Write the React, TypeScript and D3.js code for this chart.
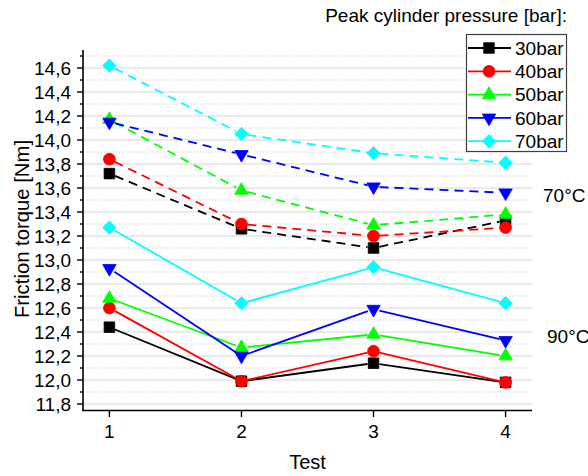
import React from 'react';
import * as d3 from 'd3';

const tests = [1, 2, 3, 4];
const seriesNames = ['30bar', '40bar', '50bar', '60bar', '70bar'];
const seriesColors = ['#000000', '#ff0000', '#00ff00', '#0000ff', '#00ffff'];
const seriesSymbols = ['square', 'circle', 'triangleUp', 'triangleDown', 'diamond'];

// 70°C (dashed)
const values70C_30 = [13.72, 13.26, 13.1, 13.33];
const values70C_40 = [13.84, 13.3, 13.2, 13.27];
const values70C_50 = [14.17, 13.58, 13.29, 13.38];
const values70C_60 = [14.15, 13.88, 13.61, 13.56];
const values70C_70 = [14.62, 14.05, 13.89, 13.81];

// 90°C (solid)
const values90C_30 = [12.44, 11.99, 12.14, 11.98];
const values90C_40 = [12.6, 11.99, 12.24, 11.98];
const values90C_50 = [12.68, 12.27, 12.38, 12.2];
const values90C_60 = [12.93, 12.2, 12.59, 12.33];
const values90C_70 = [13.27, 12.64, 12.94, 12.64];

const values70C = [values70C_30, values70C_40, values70C_50, values70C_60, values70C_70];
const values90C = [values90C_30, values90C_40, values90C_50, values90C_60, values90C_70];

const yMajorTicks = [11.8, 12.0, 12.2, 12.4, 12.6, 12.8, 13.0, 13.2, 13.4, 13.6, 13.8, 14.0, 14.2, 14.4, 14.6];
const yMinorTicks = [11.9, 12.1, 12.3, 12.5, 12.7, 12.9, 13.1, 13.3, 13.5, 13.7, 13.9, 14.1, 14.3, 14.5, 14.7];
const xTickLabels = ['1', '2', '3', '4'];

const W = 588;
const H = 476;
const FONT = "'Liberation Sans', Arial, sans-serif";

const x = d3.scaleLinear().domain([0.8, 4.2]).range([83, 532]);
const y = d3.scaleLinear().domain([11.75, 14.75]).range([410, 50]);

function symbolD(kind: string): { d: string; rot: number } {
  if (kind === 'square') return { d: d3.symbol(d3.symbolSquare, 112)() as string, rot: 0 };
  if (kind === 'circle') return { d: d3.symbol(d3.symbolCircle, 110)() as string, rot: 0 };
  if (kind === 'triangleUp') return { d: d3.symbol(d3.symbolTriangle, 78)() as string, rot: 0 };
  if (kind === 'triangleDown') return { d: d3.symbol(d3.symbolTriangle, 78)() as string, rot: 180 };
  return { d: d3.symbol(d3.symbolSquare, 90)() as string, rot: 45 };
}

function Marker({ cx, cy, kind, color }: { cx: number; cy: number; kind: string; color: string }) {
  const s = symbolD(kind);
  return <path d={s.d} transform={`translate(${cx},${cy}) rotate(${s.rot})`} fill={color} stroke={color} strokeWidth={0.8} />;
}

function segments(vals: number[], gap: number) {
  const out: string[] = [];
  for (let i = 0; i < vals.length - 1; i++) {
    const x0 = x(tests[i]), y0 = y(vals[i]);
    const x1 = x(tests[i + 1]), y1 = y(vals[i + 1]);
    const dx = x1 - x0, dy = y1 - y0;
    const len = Math.hypot(dx, dy);
    const ux = dx / len, uy = dy / len;
    const p = d3.path();
    p.moveTo(x0 + ux * gap, y0 + uy * gap);
    p.lineTo(x1 - ux * gap, y1 - uy * gap);
    out.push(p.toString());
  }
  return out;
}

function Series({ vals, color, kind, dashed }: { vals: number[]; color: string; kind: string; dashed: boolean }) {
  return (
    <g>
      {segments(vals, 6).map((d, i) => (
        <path key={i} d={d} fill="none" stroke={color} strokeWidth={1.8} strokeDasharray={dashed ? '9,6' : undefined} />
      ))}
      {vals.map((v, i) => (
        <Marker key={i} cx={x(tests[i])} cy={y(v)} kind={kind} color={color} />
      ))}
    </g>
  );
}

export default function App() {
  const fmt = (v: number) => v.toFixed(1).replace('.', ',');
  const legendRowY = (i: number) => 48 + i * 23.3;
  return (
    <svg width={W} height={H} style={{ position: 'absolute', left: 0, top: 0, background: '#fff' }} fontFamily={FONT}>
      <rect width={W} height={H} fill="#fff" />
      {/* grid */}
      {yMinorTicks.map((t) => (
        <line key={'gm' + t} x1={83} x2={532} y1={y(t)} y2={y(t)} stroke="#c8c8c8" strokeWidth={1} strokeDasharray="1,2" />
      ))}
      {yMajorTicks.map((t) => (
        <line key={'gM' + t} x1={83} x2={532} y1={y(t)} y2={y(t)} stroke="#d6d6d6" strokeWidth={1.2} />
      ))}
      {/* axes */}
      <line x1={83} x2={83} y1={50} y2={411} stroke="#000" strokeWidth={1.6} />
      <line x1={82.2} x2={532} y1={410.5} y2={410.5} stroke="#000" strokeWidth={1.6} />
      {yMajorTicks.map((t) => (
        <g key={'yt' + t}>
          <line x1={77} x2={83} y1={y(t)} y2={y(t)} stroke="#000" strokeWidth={1.4} />
          <text x={71} y={y(t)} dy="0.35em" textAnchor="end" fontSize={19}>{fmt(t)}</text>
        </g>
      ))}
      {yMinorTicks.map((t) => (
        <line key={'ym' + t} x1={80} x2={83} y1={y(t)} y2={y(t)} stroke="#000" strokeWidth={1.4} />
      ))}
      {tests.map((t, i) => (
        <g key={'xt' + t}>
          <line x1={x(t)} x2={x(t)} y1={411} y2={417} stroke="#000" strokeWidth={1.4} />
          <text x={x(t)} y={438} textAnchor="middle" fontSize={19}>{xTickLabels[i]}</text>
        </g>
      ))}
      <text x={307.5} y={469} textAnchor="middle" fontSize={20}>Test</text>
      <text transform="translate(29,229) rotate(-90)" textAnchor="middle" fontSize={20.3}>Friction torque [Nm]</text>

      {/* series */}
      {seriesNames.map((n, i) => (
        <Series key={'d' + n} vals={values70C[i]} color={seriesColors[i]} kind={seriesSymbols[i]} dashed={true} />
      ))}
      {seriesNames.map((n, i) => (
        <Series key={'s' + n} vals={values90C[i]} color={seriesColors[i]} kind={seriesSymbols[i]} dashed={false} />
      ))}

      <text x={543} y={202} fontSize={19}>70°C</text>
      <text x={547} y={343} fontSize={19}>90°C</text>

      {/* legend */}
      <text x={567} y={22} textAnchor="end" fontSize={19}>Peak cylinder pressure [bar]:</text>
      <rect x={466.5} y={34.5} width={100} height={117} fill="#fff" stroke="#404040" strokeWidth={1.2} />
      {seriesNames.map((n, i) => (
        <g key={'lg' + n}>
          <line x1={468} x2={511} y1={legendRowY(i)} y2={legendRowY(i)} stroke={seriesColors[i]} strokeWidth={1.8} />
          <Marker cx={489} cy={legendRowY(i)} kind={seriesSymbols[i]} color={seriesColors[i]} />
          <text x={515} y={legendRowY(i)} dy="0.35em" fontSize={19}>{n}</text>
        </g>
      ))}
    </svg>
  );
}
